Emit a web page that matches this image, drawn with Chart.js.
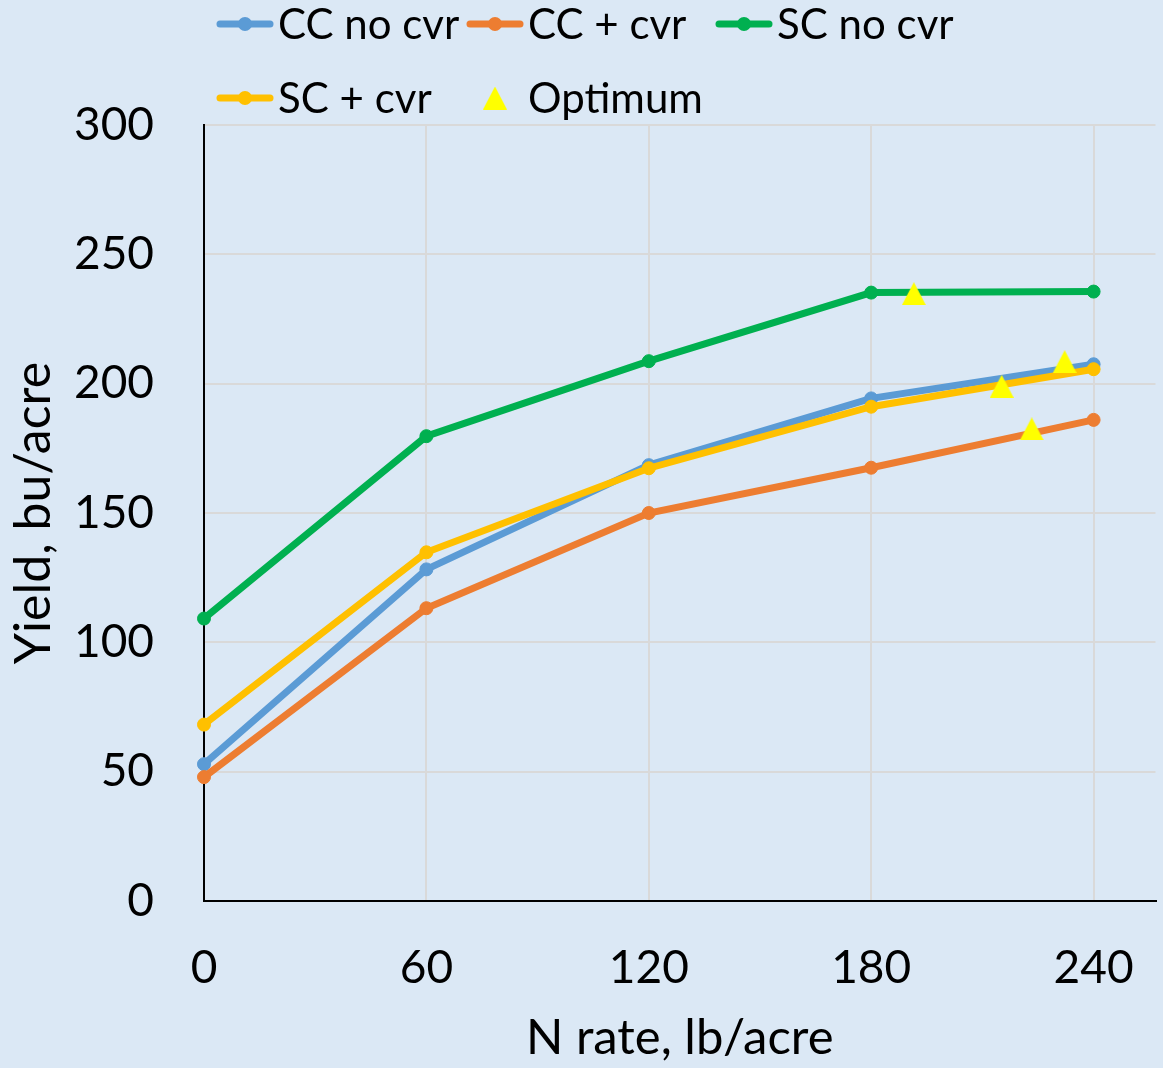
<!DOCTYPE html>
<html>
<head>
<meta charset="utf-8">
<script src="https://cdn.jsdelivr.net/npm/chart.js@4.4.1/dist/chart.umd.min.js"></script>
<style>
  html, body { margin: 0; padding: 0; background: #dbe8f5; }
</style>
</head>
<body>
<canvas id="yieldChart" width="1163" height="1068"></canvas>
<script>
// N rate, lb/acre
var nRates = [0, 60, 120, 180, 240];
// yield, bu/acre
var ccNoCvr = [52.9, 128.2, 168.5, 194.3, 207.5];
var ccCvr = [47.9, 113.2, 150.0, 167.5, 186.0];
var scNoCvr = [109.2, 179.7, 208.7, 235.2, 235.6];
var scCvr = [68.2, 134.8, 167.3, 191.1, 205.6];
// optimum N rate and the yield there (SC no cvr, SC + cvr, CC no cvr, CC + cvr)
var optRate = [191.5, 215.2, 232.2, 223.3];
var optYield = [234.8, 199.0, 208.5, 182.5];

var xTicks = [0, 60, 120, 180, 240];
var yTicks = [0, 50, 100, 150, 200, 250, 300];

var BG = '#dbe8f5';
var FONT = 'Lato';

Chart.defaults.font.family = FONT;
Chart.defaults.color = '#000';

function points(xs, ys) {
  var out = [];
  for (var i = 0; i < xs.length; i++) out.push({ x: xs[i], y: ys[i] });
  return out;
}

// excel style triangle marker, centred on its box
function triangleMarker(w, h, color) {
  var c = document.createElement('canvas');
  c.width = w; c.height = h;
  var ctx = c.getContext('2d');
  ctx.fillStyle = color;
  ctx.beginPath();
  ctx.moveTo(w / 2, 0);
  ctx.lineTo(w, h);
  ctx.lineTo(0, h);
  ctx.closePath();
  ctx.fill();
  return c;
}
var tri = triangleMarker(24, 23, '#ffff00');

function series(label, ys, color, order) {
  return {
    label: label,
    data: points(nRates, ys),
    showLine: true,
    borderColor: color,
    backgroundColor: color,
    borderWidth: 7,
    pointRadius: 6.5,
    pointBorderWidth: 1,
    pointBorderColor: color,
    pointBackgroundColor: color,
    clip: false,
    order: order
  };
}

var datasets = [
  series('CC no cvr', ccNoCvr, '#5b9bd5', 5),
  series('CC + cvr', ccCvr, '#ed7d31', 4),
  series('SC no cvr', scNoCvr, '#00b050', 3),
  series('SC + cvr', scCvr, '#ffc000', 2),
  {
    label: 'Optimum',
    data: points(optRate, optYield),
    showLine: false,
    pointStyle: tri,
    backgroundColor: '#ffff00',
    clip: false,
    order: 1
  }
];

// page background
var bgPlugin = {
  id: 'bg',
  beforeDraw: function(chart) {
    var ctx = chart.ctx;
    ctx.save();
    ctx.fillStyle = BG;
    ctx.fillRect(0, 0, chart.width, chart.height);
    ctx.restore();
  }
};

// two row legend laid out in columns, line + dot swatches
var legendCols = [217, 467, 716];
var legendRows = [24, 98];
var legendPlugin = {
  id: 'gridLegend',
  afterDraw: function(chart) {
    var ctx = chart.ctx;
    ctx.save();
    ctx.font = '42px ' + FONT;
    ctx.textBaseline = 'middle';
    chart.data.datasets.forEach(function(ds, i) {
      var x = legendCols[i % 3];
      var y = legendRows[Math.floor(i / 3)];
      if (ds.showLine) {
        ctx.strokeStyle = ds.borderColor;
        ctx.lineWidth = 7;
        ctx.lineCap = 'round';
        ctx.beginPath();
        ctx.moveTo(x + 3, y);
        ctx.lineTo(x + 53, y);
        ctx.stroke();
        ctx.fillStyle = ds.borderColor;
        ctx.beginPath();
        ctx.arc(x + 28, y, 7, 0, Math.PI * 2);
        ctx.fill();
      } else {
        ctx.drawImage(tri, x + 28 - tri.width / 2, y - tri.height / 2);
      }
      ctx.fillStyle = '#000';
      ctx.fillText(ds.label, x + 61, y + 1);
    });
    ctx.restore();
  }
};

new Chart(document.getElementById('yieldChart'), {
  type: 'scatter',
  data: { datasets: datasets },
  plugins: [bgPlugin, legendPlugin],
  options: {
    responsive: false,
    animation: false,
    devicePixelRatio: 1,
    layout: { padding: { top: 125, left: 0, right: 0, bottom: 0 } },
    plugins: {
      legend: { display: false },
      tooltip: { enabled: false }
    },
    scales: {
      x: {
        type: 'linear',
        min: 0,
        max: 256.7,
        afterBuildTicks: function(scale) {
          scale.ticks = xTicks.map(function(v) { return { value: v }; });
        },
        afterFit: function(scale) {
          scale.height = 167;
          scale.paddingLeft = 0;
          scale.paddingRight = 0;
        },
        ticks: { font: { size: 46 }, padding: 40, maxRotation: 0 },
        grid: { color: '#d9d9d9', lineWidth: 2, drawTicks: false },
        border: { color: '#000', width: 2 },
        title: {
          display: true,
          text: 'N rate, lb/acre',
          font: { size: 49 },
          padding: { top: 0, bottom: 0 }
        }
      },
      y: {
        min: 0,
        max: 300,
        afterBuildTicks: function(scale) {
          scale.ticks = yTicks.map(function(v) { return { value: v }; });
        },
        afterFit: function(scale) { scale.width = 204; },
        ticks: { font: { size: 46 }, padding: 50 },
        grid: { color: '#d9d9d9', lineWidth: 2, drawTicks: false },
        border: { color: '#000', width: 2 },
        title: {
          display: true,
          text: 'Yield, bu/acre',
          font: { size: 50 },
          padding: { top: 4, bottom: 0 }
        }
      }
    }
  }
});
</script>
</body>
</html>
